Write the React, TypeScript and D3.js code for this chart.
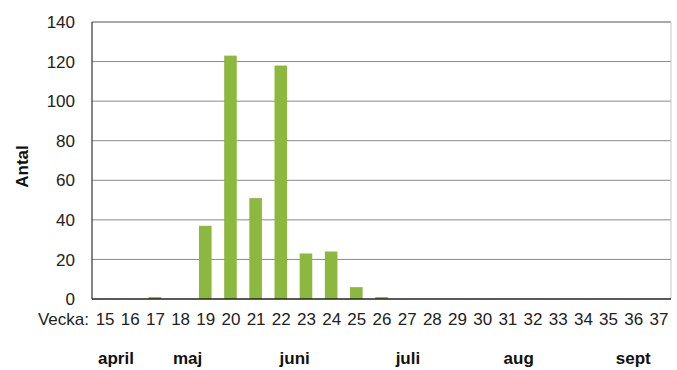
import React from "react";
import * as d3 from "d3";

const weeks = [15,16,17,18,19,20,21,22,23,24,25,26,27,28,29,30,31,32,33,34,35,36,37];
const counts = [0,0,1,0,37,123,51,118,23,24,6,1,0,0,0,0,0,0,0,0,0,0,0];
const yTicks = [0,20,40,60,80,100,120,140];
const months = ["april","maj","juni","juli","aug","sept"];
const monthWeekPos = [15.45,18.3,22.55,27.05,31.45,36.0];

export default function App() {
  const W = 677, H = 370;
  const left = 92, right = 671, top = 22, bottom = 299;
  const x = d3.scaleBand<number>().domain(weeks).range([left, right]).paddingInner(0.5).paddingOuter(0.25);
  const y = d3.scaleLinear().domain([0, 140]).range([bottom, top]);
  const wx = d3.scaleLinear().domain([weeks[0], weeks[weeks.length - 1]])
    .range([(x(weeks[0]) as number) + x.bandwidth() / 2, (x(weeks[weeks.length - 1]) as number) + x.bandwidth() / 2]);
  const font = "'Liberation Sans', Arial, sans-serif";
  return (
    <svg width={W} height={H} style={{ position: "absolute", left: 0, top: 0, background: "#fff" }} fontFamily={font}>
      {yTicks.map((t) => (
        <g key={t}>
          {t > 0 && t < 140 && (
            <line x1={left} x2={right} y1={y(t)} y2={y(t)} stroke="#8a8a8a" strokeWidth={1} />
          )}
          <text x={75} y={y(t)} dy="0.36em" textAnchor="end" fontSize={17} fill="#222">{t}</text>
        </g>
      ))}
      <line x1={left} x2={right} y1={top} y2={top} stroke="#555" strokeWidth={1.2} />
      <line x1={right} x2={right} y1={top} y2={bottom} stroke="#c8c8c8" strokeWidth={1} />
      {weeks.map((w, i) => (
        <rect key={w} x={x(w)} y={y(counts[i])} width={x.bandwidth()} height={bottom - y(counts[i])} fill="#8db83f" />
      ))}
      <line x1={left} x2={left} y1={top} y2={bottom} stroke="#333" strokeWidth={1.2} />
      <line x1={left} x2={right} y1={bottom} y2={bottom} stroke="#222" strokeWidth={1.5} />
      {weeks.map((w) => (
        <text key={w} x={(x(w) as number) + x.bandwidth() / 2 + 0.5} y={325} textAnchor="middle" fontSize={17} fill="#222">{w}</text>
      ))}
      <text x={89} y={325} textAnchor="end" fontSize={17} fill="#222">Vecka:</text>
      {months.map((m, i) => (
        <text key={m} x={wx(monthWeekPos[i])} y={364} textAnchor="middle" fontSize={17} fontWeight="bold" fill="#111">{m}</text>
      ))}
      <text transform={`translate(28,${(top + bottom) / 2 + 6}) rotate(-90)`} textAnchor="middle" fontSize={17} fontWeight="bold" fill="#111">Antal</text>
    </svg>
  );
}
